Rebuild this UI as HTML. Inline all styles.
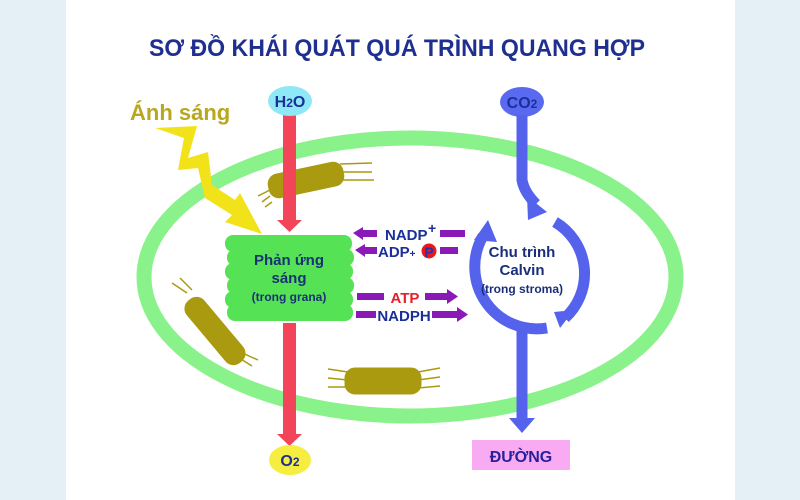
<!DOCTYPE html>
<html><head><meta charset="utf-8"><style>
body{margin:0;width:800px;height:500px;overflow:hidden;background:#e5eff6;font-family:"Liberation Sans",sans-serif}
</style></head><body>
<svg width="800" height="500" viewBox="0 0 800 500" style="position:absolute;left:0;top:0" font-family="Liberation Sans, sans-serif" font-weight="bold">
<rect x="66" y="0" width="669" height="500" fill="#fff"/>
<text x="397" y="56" text-anchor="middle" font-size="24" fill="#1f2f8f" textLength="496" lengthAdjust="spacingAndGlyphs">SƠ ĐỒ KHÁI QUÁT QUÁ TRÌNH QUANG HỢP</text>
<ellipse cx="410" cy="277" rx="266" ry="139" fill="none" stroke="#8af28a" stroke-width="15"/>
<g fill="#aa9a10" stroke="#aa9a10">
<rect x="268" y="168" width="76" height="24" rx="10" transform="rotate(-12 306 180)"/>
<g stroke-width="1.5"><line x1="340" y1="164" x2="372" y2="163"/><line x1="340" y1="172" x2="372" y2="172"/><line x1="342" y1="180" x2="374" y2="180"/><line x1="270" y1="190" x2="258" y2="196"/><line x1="270" y1="196" x2="262" y2="202"/><line x1="272" y1="202" x2="265" y2="207"/></g>
<rect x="175" y="320" width="80" height="22" rx="10" transform="rotate(50 215 331)"/>
<g stroke-width="1.5"><line x1="187" y1="293" x2="172" y2="283"/><line x1="192" y1="290" x2="180" y2="278"/><line x1="240" y1="352" x2="258" y2="360"/><line x1="236" y1="356" x2="252" y2="366"/></g>
<rect x="345" y="368" width="76" height="26" rx="10"/>
<g stroke-width="1.5"><line x1="328" y1="369" x2="348" y2="372"/><line x1="328" y1="378" x2="348" y2="380"/><line x1="328" y1="387" x2="348" y2="387"/><line x1="418" y1="372" x2="440" y2="368"/><line x1="418" y1="380" x2="440" y2="377"/><line x1="418" y1="388" x2="440" y2="386"/></g>
</g>
<polygon points="155,128 197,126 188,158 208,152 212,185 235,200 240,193 262,234 225,222 232,215 205,198 198,168 178,170 184,138" fill="#f2e21a"/>
<text x="130" y="120" font-size="22" fill="#b8a820">Ánh sáng</text>
<g fill="#55e355">
<rect x="225" y="235" width="127" height="17" rx="8"/>
<rect x="227" y="249" width="127" height="17" rx="8"/>
<rect x="225" y="263" width="128" height="17" rx="8"/>
<rect x="227" y="277" width="127" height="17" rx="8"/>
<rect x="225" y="291" width="128" height="17" rx="8"/>
<rect x="227" y="304" width="126" height="17" rx="8"/>
<rect x="232" y="240" width="115" height="76"/>
</g>
<text x="289" y="265" text-anchor="middle" font-size="15" fill="#1a3275">Phản ứng</text>
<text x="289" y="283" text-anchor="middle" font-size="15" fill="#1a3275">sáng</text>
<text x="289" y="301" text-anchor="middle" font-size="12" fill="#1a3275">(trong grana)</text>
<rect x="283" y="114" width="13" height="108" fill="#f2455a"/>
<polygon points="277,220 302,220 289.5,232" fill="#f2455a"/>
<rect x="283" y="323" width="13" height="113" fill="#f2455a"/>
<polygon points="277,434 302,434 289.5,446" fill="#f2455a"/>
<ellipse cx="290" cy="101" rx="22" ry="15" fill="#8ee8f5"/>
<text x="290" y="107" text-anchor="middle" font-size="16" fill="#1a2f9a">H<tspan font-size="12">2</tspan>O</text>
<ellipse cx="290" cy="460" rx="21" ry="15" fill="#f5ee40"/>
<text x="290" y="466" text-anchor="middle" font-size="16" fill="#1a2f9a">O<tspan font-size="12">2</tspan></text>
<ellipse cx="522" cy="102" rx="22" ry="15" fill="#5a6af0"/>
<text x="522" y="108" text-anchor="middle" font-size="16" fill="#1a2f9a">CO<tspan font-size="12">2</tspan></text>
<g fill="none" stroke="#5563ec" stroke-width="11">
<path d="M522 115 L522 180 Q524 192 536 204"/>
<path d="M555 222 A60 60 0 0 1 565 318"/>
<path d="M547 328 A62 62 0 0 1 483 236"/>
<path d="M522 330 L522 420"/>
</g>
<g fill="#5563ec">
<polygon points="527,196 547,212 528,220"/>
<polygon points="554,312 574,310 560,328"/>
<polygon points="474,240 488,220 497,242"/>
<polygon points="509,418 535,418 522,433"/>
</g>
<text x="522" y="257" text-anchor="middle" font-size="15" fill="#1a2f7a">Chu trình</text>
<text x="522" y="275" text-anchor="middle" font-size="15" fill="#1a2f7a">Calvin</text>
<text x="522" y="293" text-anchor="middle" font-size="12" fill="#1a2f7a">(trong stroma)</text>
<rect x="472" y="440" width="98" height="30" fill="#f8aaf2"/>
<text x="521" y="462" text-anchor="middle" font-size="16" fill="#2a1f9a">ĐƯỜNG</text>
<g fill="#8a1ab8">
<polygon points="353,233 363,227 363,230 377,230 377,237 363,237 363,240"/>
<rect x="440" y="230" width="25" height="7"/>
<polygon points="355,250 365,244 365,247 377,247 377,254 365,254 365,257"/>
<rect x="440" y="247" width="18" height="7"/>
<rect x="357" y="293" width="27" height="7"/>
<polygon points="425,293 447,293 447,289 458,296.5 447,304 447,300 425,300"/>
<rect x="356" y="311" width="20" height="7"/>
<polygon points="432,311 457,311 457,307 468,314.5 457,322 457,318 432,318"/>
</g>
<text x="385" y="240" font-size="15" fill="#1a2f9a">NADP</text>
<text x="428" y="233" font-size="14" fill="#1a2f9a">+</text>
<text x="378" y="257" font-size="15" fill="#1a2f9a">ADP<tspan font-size="10">+</tspan></text>
<circle cx="429" cy="251" r="7.5" fill="#e81818"/>
<text x="429" y="257" text-anchor="middle" font-size="14" fill="#2a2fb0">P</text>
<text x="405" y="303" text-anchor="middle" font-size="15" fill="#e0222a">ATP</text>
<text x="404" y="321" text-anchor="middle" font-size="15" fill="#1a2f9a">NADPH</text>
</svg>
</body></html>
